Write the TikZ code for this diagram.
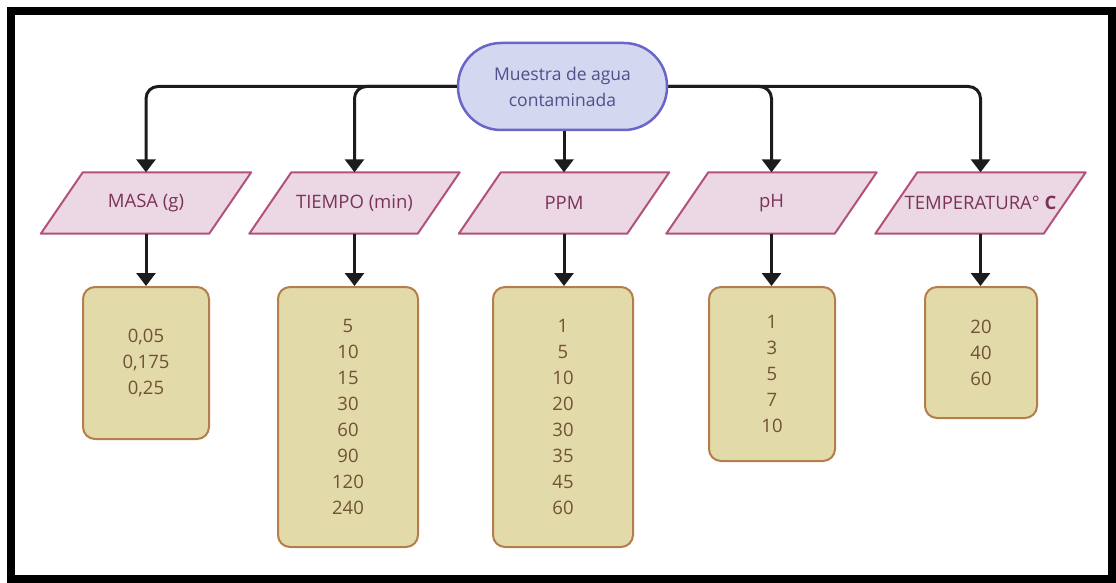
\documentclass[tikz,border=0pt]{standalone}
\usepackage{fontspec}
\setmainfont{Open Sans}
\definecolor{SampleFill}{RGB}{212,215,240}
\definecolor{SampleLine}{RGB}{106,102,200}
\definecolor{SampleText}{RGB}{80,80,140}
\definecolor{InputFill}{RGB}{235,216,228}
\definecolor{InputLine}{RGB}{178,82,122}
\definecolor{InputText}{RGB}{122,52,84}
\definecolor{ValueFill}{RGB}{227,218,170}
\definecolor{ValueLine}{RGB}{180,125,75}
\definecolor{ValueText}{RGB}{112,82,52}
\definecolor{LinkBlack}{RGB}{28,28,28}
\usetikzlibrary{arrows.meta, backgrounds}

\begin{document}
\begin{tikzpicture}[
    x=1pt, y=-1pt,
    every node/.style={
        inner sep=0pt,
        align=center,
        font=\fontsize{18.5}{26}\selectfont
    },
    sample/.style={draw=SampleLine, fill=SampleFill, text=SampleText, line width=2.5pt,
        rectangle, rounded corners=43pt, minimum width=209pt, minimum height=87pt,
        font=\fontsize{17.5}{26}\selectfont},
    input/.style={text=InputText, rectangle, minimum width=168pt, minimum height=61pt},
    inputshape/.style={draw=InputLine, fill=InputFill, line width=2pt, line join=round},
    values/.style={draw=ValueLine, fill=ValueFill, text=ValueText, line width=2pt,
        rectangle, rounded corners=12pt},
    link/.style={draw=LinkBlack, line width=3pt, rounded corners=12pt,
        -{Triangle[width=19pt, length=13pt]}}
]
\useasboundingbox (0,0) rectangle (1116,583);

% Frame
\draw[line width=8pt, black] (11,11) rectangle (1112,579);

% Nodes
\node[sample] (sample) at (562.5,86.5) {Muestra de agua\\contaminada};

\node[input] (masa) at (146,203) {MASA (g)};
\node[input] (tiempo) at (354.5,203) {TIEMPO (min)};
\node[input] (ppm) at (564,203) {PPM};
\node[input] (ph) at (771.5,203) {pH};
\node[input] (temp) at (980.5,203) {TEMPERATURA° \textbf{C}};

% Slanted boxes behind the input names
\begin{scope}[on background layer]
\foreach \n in {masa,tiempo,ppm,ph,temp}
    \path[inputshape] ([xshift=21pt]\n.north west) -- ([xshift=21pt]\n.north east)
        -- ([xshift=-21pt]\n.south east) -- ([xshift=-21pt]\n.south west) -- cycle;
\end{scope}

\node[values, minimum width=126pt, minimum height=152pt] (masavals) at (146,363)
    {0,05\\0,175\\0,25};
\node[values, minimum width=140pt, minimum height=260pt] (tiempovals) at (348,417)
    {5\\10\\15\\30\\60\\90\\120\\240};
\node[values, minimum width=140pt, minimum height=260pt] (ppmvals) at (563,417)
    {1\\5\\10\\20\\30\\35\\45\\60};
\node[values, minimum width=126pt, minimum height=174pt] (phvals) at (772,374)
    {1\\3\\5\\7\\10};
\node[values, minimum width=112pt, minimum height=131pt] (tempvals) at (981,352.5)
    {20\\40\\60};

% Links from the sample
\draw[link] (sample.west) -| (masa.north);
\draw[link] (sample.west) -| (tiempo.north);
\draw[link] (sample.south -| ppm.north) -- (ppm.north);
\draw[link] (sample.east) -| (ph.north);
\draw[link] (sample.east) -| (temp.north);

% Links to the values
\draw[link] (masa.south) -- (masa.south |- masavals.north);
\draw[link] (tiempo.south) -- (tiempo.south |- tiempovals.north);
\draw[link] (ppm.south) -- (ppm.south |- ppmvals.north);
\draw[link] (ph.south) -- (ph.south |- phvals.north);
\draw[link] (temp.south) -- (temp.south |- tempvals.north);
\end{tikzpicture}
\end{document}
